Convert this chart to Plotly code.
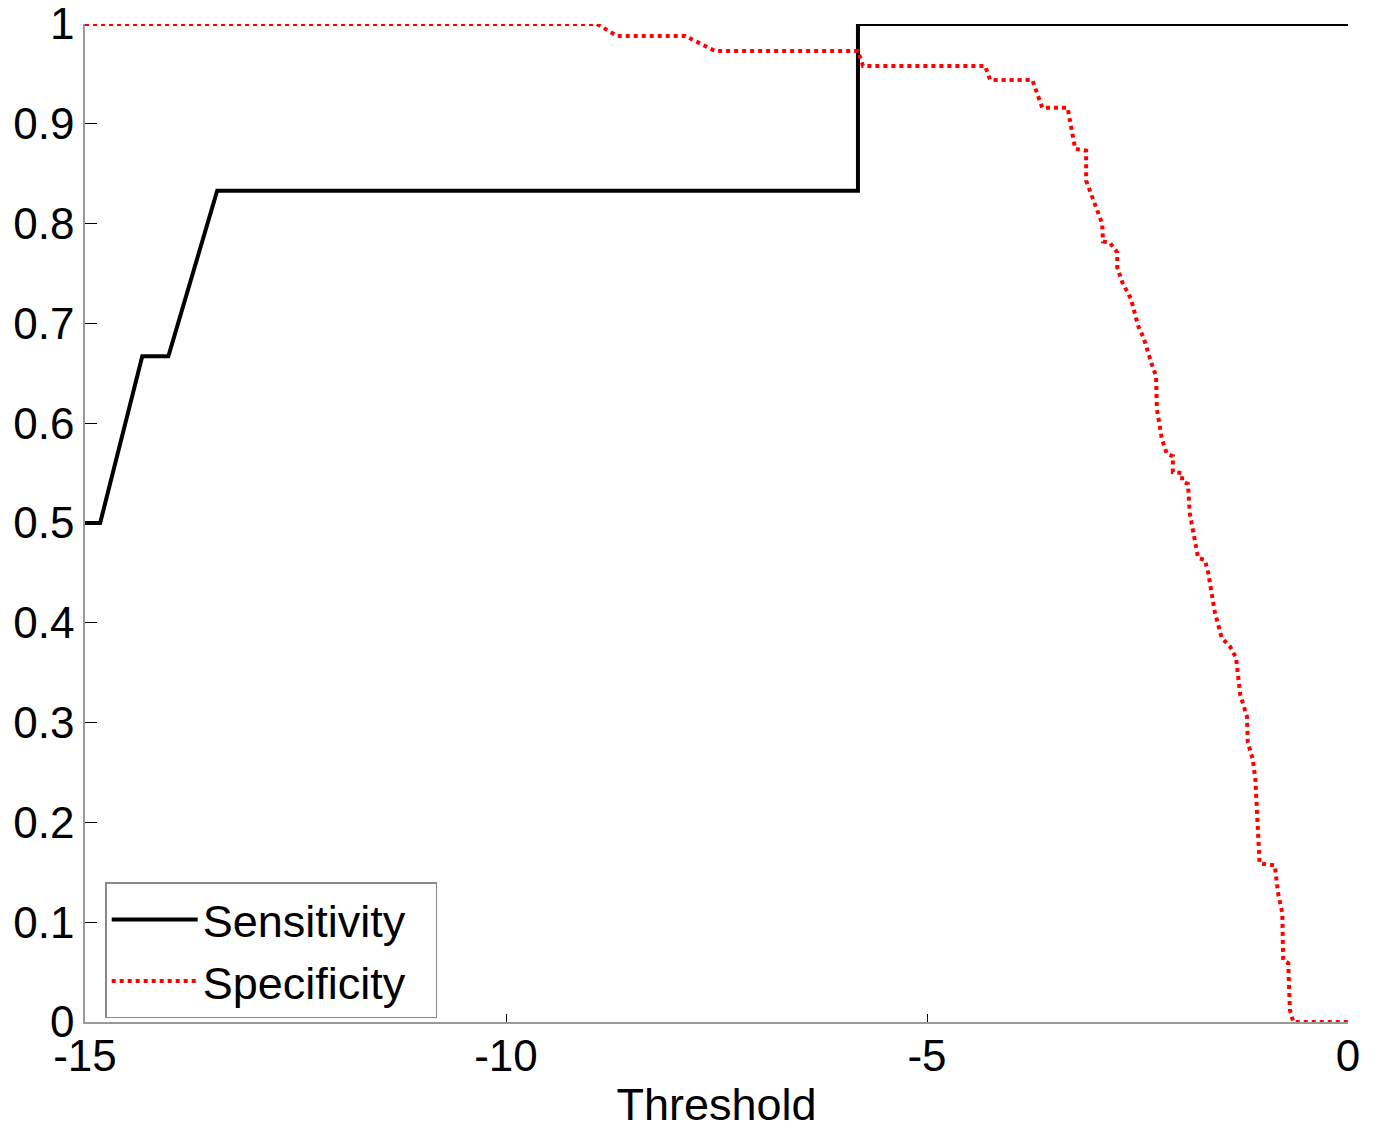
import plotly.graph_objects as go

# Sensitivity curve (threshold, value)
sens_x = [-15.0, -14.82, -14.32, -14.01, -13.43, -5.82, -5.82, 0.0]
sens_y = [0.5, 0.5, 0.667, 0.667, 0.833, 0.833, 1.0, 1.0]

# Specificity curve (threshold, value)
spec_x = [-15.0, -8.92, -8.68, -7.87, -7.52, -5.82, -5.76, -4.31, -4.25, -3.75,
          -3.63, -3.33, -3.24, -3.11, -3.11, -3.00, -2.92, -2.91, -2.83, -2.74,
          -2.74, -2.68, -2.58, -2.49, -2.43, -2.33, -2.28, -2.27, -2.21, -2.15,
          -2.08, -2.08, -1.97, -1.97, -1.90, -1.88, -1.84, -1.78, -1.70, -1.66,
          -1.58, -1.50, -1.40, -1.33, -1.28, -1.20, -1.19, -1.13, -1.10, -1.06,
          -1.05, -0.87, -0.83, -0.78, -0.77, -0.71, -0.69, -0.65, 0.0]
spec_y = [1.0, 1.0, 0.988, 0.988, 0.973, 0.973, 0.958, 0.958, 0.944, 0.944,
          0.916, 0.916, 0.875, 0.873, 0.843, 0.817, 0.800, 0.782, 0.781, 0.771,
          0.756, 0.741, 0.725, 0.697, 0.686, 0.659, 0.647, 0.614, 0.584, 0.569,
          0.567, 0.551, 0.550, 0.542, 0.539, 0.510, 0.493, 0.465, 0.463, 0.450,
          0.410, 0.385, 0.376, 0.365, 0.328, 0.306, 0.280, 0.263, 0.243, 0.186,
          0.159, 0.157, 0.129, 0.109, 0.062, 0.059, 0.012, 0.0, 0.0]

x_ticks = [-15, -10, -5, 0]
y_ticks = [0, 0.1, 0.2, 0.3, 0.4, 0.5, 0.6, 0.7, 0.8, 0.9, 1]
y_tick_labels = ["0", "0.1", "0.2", "0.3", "0.4", "0.5", "0.6", "0.7", "0.8", "0.9", "1"]

FONT = "Liberation Sans, Arial, Helvetica, sans-serif"

fig = go.Figure()
fig.add_trace(go.Scatter(x=sens_x, y=sens_y, mode="lines", name="Sensitivity\u00a0\u00a0",
                         line=dict(color="black", width=4)))
fig.add_trace(go.Scatter(x=spec_x, y=spec_y, mode="lines", name="Specificity\u00a0\u00a0",
                         line=dict(color="red", width=4, dash="dot")))

fig.update_layout(
    width=1376, height=1129,
    margin=dict(l=77, r=36, t=16, b=115),
    paper_bgcolor="white", plot_bgcolor="white",
    font=dict(family=FONT, size=44, color="black"),
    showlegend=True,
    legend=dict(x=0.016, y=0.14, xanchor="left", yanchor="top",
                bgcolor="white", bordercolor="#888888", borderwidth=1.5,
                font=dict(size=45, family=FONT), itemwidth=86,
                tracegroupgap=0),
)
fig.update_xaxes(range=[-15, 0], tickvals=x_ticks, ticktext=[str(v) for v in x_ticks],
                 automargin=False, ticklabelstandoff=-6, ticklabeloverflow="allow",
                 showgrid=False, zeroline=False, showline=True, linecolor="#999999",
                 linewidth=1.5, ticks="inside", ticklen=8, tickcolor="black",
                 tickfont=dict(size=44), title=dict(text="Threshold", font=dict(size=45), standoff=10))
fig.update_yaxes(range=[0, 1], tickvals=y_ticks, ticktext=y_tick_labels,
                 automargin=False, ticklabeloverflow="allow",
                 showgrid=False, zeroline=False, showline=True, linecolor="#999999",
                 linewidth=1.5, ticks="inside", ticklen=12, tickcolor="black",
                 tickfont=dict(size=44))

fig.write_html("out.html")
